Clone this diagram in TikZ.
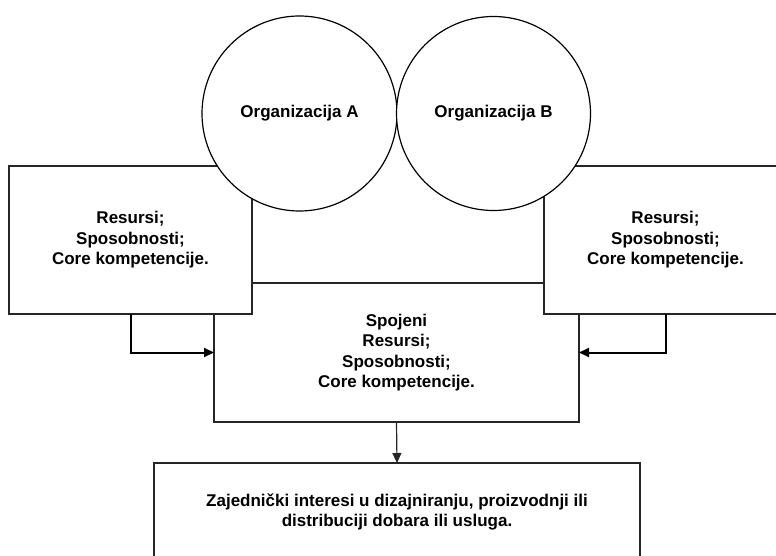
\documentclass[tikz,border=0pt]{standalone}
\usepackage{fontspec}
\setmainfont{Liberation Sans}
\usetikzlibrary{arrows.meta}
\begin{document}
\begin{tikzpicture}[x=1pt,y=-1pt,
  every node/.style={font=\bfseries\fontsize{17}{20.5}\selectfont, align=center, inner sep=0pt, outer sep=0pt},
  box/.style={draw=black!85, line width=1.2pt, fill=white, rectangle},
  org/.style={draw=black, line width=1.2pt, fill=white, circle},
  arr/.style={draw=black, line width=2pt, -{Triangle[length=10pt,width=9pt]}},
  link/.style={draw=black!85, line width=1.2pt, -{Triangle[length=10pt,width=9pt]}}]
  \clip (0,0) rectangle (776,556);
  % merged resources, then the two partners' resources laid over it
  \node[box, minimum width=365pt, minimum height=139pt] (mid) at (396.5,352.5)
    {Spojeni\\Resursi;\\Sposobnosti;\\Core kompetencije.};
  \node[box, minimum width=243pt, minimum height=148pt] (left) at (130.5,240)
    {Resursi;\\Sposobnosti;\\Core kompetencije.};
  \node[box, minimum width=243pt, minimum height=148pt] (right) at (665.5,240)
    {Resursi;\\Sposobnosti;\\Core kompetencije.};
  % the two organisations
  \node[org, minimum size=195pt] (orgA) at (299.5,113.5) {Organizacija A};
  \node[org, minimum size=194pt] (orgB) at (493.5,113.5) {Organizacija B};
  % shared outcome
  \node[box, minimum width=486pt, minimum height=98pt] (out) at (397,512)
    {Zajednički interesi u dizajniranju, proizvodnji ili\\distribuciji dobara ili usluga.};
  % connectors
  \draw[arr] (left.south) |- (mid.west);
  \draw[arr] (right.south) |- (mid.east);
  \draw[link] (mid.south) -- (out.north);
\end{tikzpicture}
\end{document}
